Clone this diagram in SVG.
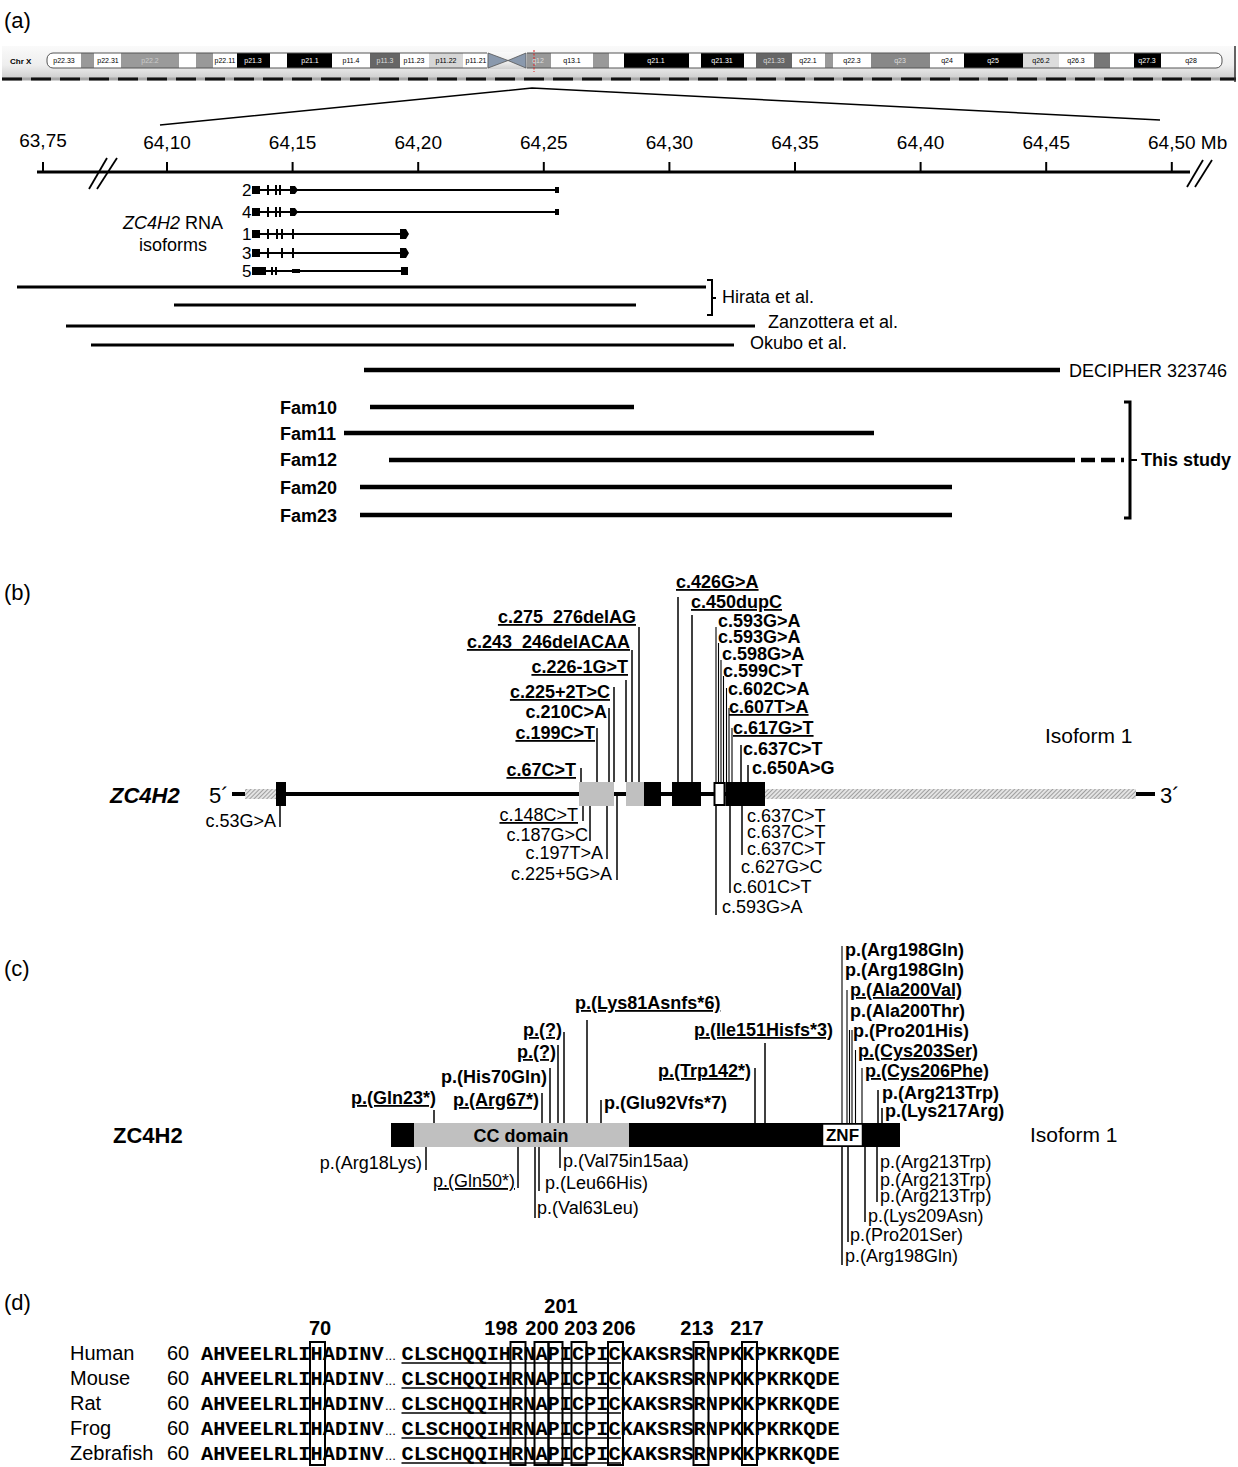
<svg xmlns="http://www.w3.org/2000/svg" width="1238" height="1467" viewBox="0 0 1238 1467">
<style>
text{font-family:"Liberation Sans",Arial,sans-serif;fill:#000}
.p{font-size:22px}
.ax{font-size:19px;text-anchor:middle}
.m{font-size:18px}
.mb{font-size:18px;font-weight:bold}
.u{text-decoration:underline}
.e{text-anchor:end}
.c{text-anchor:middle}
.bd{font-size:7px;text-anchor:middle}
.ln{stroke:#000;stroke-width:1.5;fill:none}
.ln2{stroke:#000;stroke-width:1.1;fill:none}
.seq text{font-family:"Liberation Mono","Courier New",monospace;font-size:20.3px;font-weight:bold}
.sp{font-size:20px}
.num{font-size:20px;font-weight:bold;text-anchor:middle}
.box{fill:none;stroke:#000;stroke-width:2}
</style>
<defs>
<linearGradient id="bg" x1="0" y1="0" x2="0" y2="1">
<stop offset="0" stop-color="#fafafa"/><stop offset="0.6" stop-color="#eeeeee"/><stop offset="1" stop-color="#cfcfcf"/>
</linearGradient>
<pattern id="hatch" width="3" height="3" patternUnits="userSpaceOnUse" patternTransform="rotate(45)">
<rect width="3" height="3" fill="#e4e4e4"/><line x1="0" y1="0" x2="0" y2="3" stroke="#7a7a7a" stroke-width="1.3"/>
</pattern>
<clipPath id="chrclip"><rect x="47" y="53" width="1175" height="15" rx="6"/></clipPath>
</defs>
<rect width="1238" height="1467" fill="#fff"/>

<!-- Panel a -->
<text class="p" x="4" y="28">(a)</text>
<g id="ideogram">
<rect x="2" y="46" width="1234" height="32" fill="url(#bg)"/>
<line x1="2" y1="79" x2="1236" y2="79" stroke="#a8a8a8" stroke-width="3"/>
<line x1="2" y1="79" x2="1236" y2="79" stroke="#111" stroke-width="3" stroke-dasharray="20 9"/>
<line x1="1235" y1="46" x2="1235" y2="82" stroke="#333" stroke-width="1.5"/>
<text x="10" y="64" style="font-size:8px;font-weight:bold">Chr X</text>
<g clip-path="url(#chrclip)">
<rect x="47" y="53" width="1175" height="15" fill="#fff"/>
<rect x="81" y="53" width="13" height="15" fill="#999"/>
<rect x="121" y="53" width="58" height="15" fill="#9a9a9a"/>
<rect x="196" y="53" width="17" height="15" fill="#999"/>
<rect x="237" y="53" width="33" height="15" fill="#000"/>
<rect x="287" y="53" width="45" height="15" fill="#000"/>
<rect x="370" y="53" width="30" height="15" fill="#666"/>
<rect x="429" y="53" width="34" height="15" fill="#d6d6d6"/>
<rect x="488" y="53" width="38" height="15" fill="#fff"/>
<rect x="526" y="53" width="25" height="15" fill="#999"/>
<rect x="593" y="53" width="16" height="15" fill="#999"/>
<rect x="624" y="53" width="65" height="15" fill="#000"/>
<rect x="701" y="53" width="43" height="15" fill="#000"/>
<rect x="756" y="53" width="36" height="15" fill="#666"/>
<rect x="825" y="53" width="8" height="15" fill="#999"/>
<rect x="871" y="53" width="59" height="15" fill="#888"/>
<rect x="964" y="53" width="59" height="15" fill="#000"/>
<rect x="1023" y="53" width="36" height="15" fill="#dcdcdc"/>
<rect x="1094" y="53" width="16" height="15" fill="#777"/>
<rect x="1134" y="53" width="27" height="15" fill="#000"/>
</g>
<rect x="47" y="53" width="1175" height="15" rx="6" fill="none" stroke="#555" stroke-width="1"/>
<rect x="487" y="52" width="40" height="17" fill="url(#bg)"/>
<polygon points="488,53 508,60.5 488,68" fill="#8a99ad" stroke="#555" stroke-width="0.8"/>
<polygon points="526,53 508,60.5 526,68" fill="#8a99ad" stroke="#555" stroke-width="0.8"/>
<line x1="534" y1="50" x2="534" y2="72" stroke="#e02020" stroke-width="1" stroke-dasharray="2 1.5"/>
<text class="bd" x="64" y="63">p22.33</text>
<text class="bd" x="108" y="63">p22.31</text>
<text class="bd" x="150" y="63" style="fill:#ccc">p22.2</text>
<text class="bd" x="225" y="63">p22.11</text>
<text class="bd" x="253" y="63" style="fill:#fff">p21.3</text>
<text class="bd" x="310" y="63" style="fill:#fff">p21.1</text>
<text class="bd" x="351" y="63">p11.4</text>
<text class="bd" x="385" y="63" style="fill:#ddd">p11.3</text>
<text class="bd" x="414" y="63">p11.23</text>
<text class="bd" x="446" y="63">p11.22</text>
<text class="bd" x="476" y="63">p11.21</text>
<text class="bd" x="538" y="63" style="fill:#ddd">q12</text>
<text class="bd" x="572" y="63">q13.1</text>
<text class="bd" x="656" y="63" style="fill:#fff">q21.1</text>
<text class="bd" x="722" y="63" style="fill:#fff">q21.31</text>
<text class="bd" x="774" y="63" style="fill:#ddd">q21.33</text>
<text class="bd" x="808" y="63">q22.1</text>
<text class="bd" x="852" y="63">q22.3</text>
<text class="bd" x="900" y="63" style="fill:#ddd">q23</text>
<text class="bd" x="947" y="63">q24</text>
<text class="bd" x="993" y="63" style="fill:#fff">q25</text>
<text class="bd" x="1041" y="63">q26.2</text>
<text class="bd" x="1076" y="63">q26.3</text>
<text class="bd" x="1147" y="63" style="fill:#fff">q27.3</text>
<text class="bd" x="1191" y="63">q28</text>
</g>
<g id="zoomlines" class="ln">
<polyline points="160,125 532,88 1160,120" style="stroke-width:1.5"/>
</g>
<g id="axis">
<line x1="37" y1="172" x2="1190" y2="172" stroke="#000" stroke-width="3"/>
<g stroke="#000" stroke-width="2">
<line x1="43" y1="162" x2="43" y2="172"/><line x1="167" y1="162" x2="167" y2="172"/><line x1="292.6" y1="162" x2="292.6" y2="172"/><line x1="418.2" y1="162" x2="418.2" y2="172"/><line x1="543.8" y1="162" x2="543.8" y2="172"/><line x1="669.4" y1="162" x2="669.4" y2="172"/><line x1="795" y1="162" x2="795" y2="172"/><line x1="920.6" y1="162" x2="920.6" y2="172"/><line x1="1046.2" y1="162" x2="1046.2" y2="172"/><line x1="1171.8" y1="162" x2="1171.8" y2="172"/>
</g>
<g stroke="#000" stroke-width="1.8">
<line x1="89" y1="189" x2="107" y2="158"/><line x1="97" y1="189" x2="117" y2="158"/>
<line x1="1187" y1="187" x2="1203" y2="160"/><line x1="1195" y1="187" x2="1212" y2="160"/>
</g>
<text class="ax" x="43" y="147">63,75</text>
<text class="ax" x="167" y="149">64,10</text>
<text class="ax" x="292.6" y="149">64,15</text>
<text class="ax" x="418.2" y="149">64,20</text>
<text class="ax" x="543.8" y="149">64,25</text>
<text class="ax" x="669.4" y="149">64,30</text>
<text class="ax" x="795" y="149">64,35</text>
<text class="ax" x="920.6" y="149">64,40</text>
<text class="ax" x="1046.2" y="149">64,45</text>
<text x="1148" y="149" style="font-size:19px">64,50 Mb</text>
</g>
<g id="isoforms">
<text x="173" y="229" class="c" style="font-size:18px"><tspan font-style="italic">ZC4H2</tspan> RNA</text>
<text x="173" y="251" class="c" style="font-size:18px">isoforms</text>
<g style="font-size:17px">
<text x="242" y="196">2</text><text x="242" y="218">4</text><text x="242" y="240">1</text><text x="242" y="259">3</text><text x="242" y="277">5</text>
</g>
<g stroke="#000" stroke-width="2">
<line x1="255" y1="190" x2="557" y2="190"/><line x1="255" y1="212" x2="557" y2="212"/>
<line x1="255" y1="234" x2="405" y2="234"/><line x1="255" y1="253" x2="405" y2="253"/><line x1="255" y1="271" x2="405" y2="271"/>
<line x1="268" y1="185" x2="268" y2="195"/><line x1="276" y1="185" x2="276" y2="195"/><line x1="280" y1="185" x2="280" y2="195"/>
<line x1="268" y1="207" x2="268" y2="217"/><line x1="276" y1="207" x2="276" y2="217"/><line x1="280" y1="207" x2="280" y2="217"/>
<line x1="268" y1="229" x2="268" y2="239"/><line x1="277" y1="229" x2="277" y2="239"/><line x1="282" y1="229" x2="282" y2="239"/><line x1="293" y1="229" x2="293" y2="239"/>
<line x1="268" y1="248" x2="268" y2="258"/><line x1="282" y1="248" x2="282" y2="258"/><line x1="293" y1="248" x2="293" y2="258"/>
<line x1="272" y1="267" x2="272" y2="275"/><line x1="276" y1="267" x2="276" y2="275"/>
</g>
<rect x="252" y="186" width="8" height="8"/><polygon points="290,186 295,186 298,190 295,194 290,194"/>
<rect x="252" y="208" width="8" height="8"/><polygon points="290,208 295,208 298,212 295,216 290,216"/>
<rect x="252" y="230" width="8" height="8"/><polygon points="400,229 406,229 409,234 406,239 400,239"/>
<rect x="252" y="249" width="8" height="8"/><polygon points="400,248 406,248 409,253 406,258 400,258"/>
<rect x="252" y="267" width="14" height="8"/><rect x="292" y="269" width="8" height="4"/><rect x="401" y="267" width="7" height="8"/>
<rect x="555" y="187" width="4" height="6"/><rect x="555" y="209" width="4" height="6"/>
</g>
<g id="deletions" stroke="#000">
<line x1="17" y1="287" x2="706" y2="287" stroke-width="3"/>
<line x1="174" y1="305" x2="636" y2="305" stroke-width="3"/>
<line x1="66" y1="326" x2="755" y2="326" stroke-width="3"/>
<line x1="91" y1="345" x2="734" y2="345" stroke-width="3"/>
<line x1="364" y1="370" x2="1060" y2="370" stroke-width="4.5"/>
<line x1="370" y1="407" x2="634" y2="407" stroke-width="4.5"/>
<line x1="344" y1="433" x2="874" y2="433" stroke-width="4.5"/>
<line x1="389" y1="460" x2="1075" y2="460" stroke-width="4.5"/>
<line x1="1081" y1="460" x2="1124" y2="460" stroke-width="4.5" stroke-dasharray="14 6"/>
<line x1="360" y1="487" x2="952" y2="487" stroke-width="4.5"/>
<line x1="360" y1="515" x2="952" y2="515" stroke-width="4.5"/>
<polyline points="707,280 712,280 712,315 707,315" fill="none" stroke-width="2"/>
<line x1="712" y1="298" x2="716" y2="298" stroke-width="2"/>
<polyline points="1124,402 1130,402 1130,518 1124,518" fill="none" stroke-width="3"/>
<line x1="1130" y1="460" x2="1137" y2="460" stroke-width="2"/>
</g>
<g id="deletion-labels">
<text class="m" x="722" y="303">Hirata et al.</text>
<text class="m" x="768" y="328">Zanzottera et al.</text>
<text class="m" x="750" y="349">Okubo et al.</text>
<text class="m" x="1069" y="377">DECIPHER 323746</text>
<text class="mb" x="280" y="414">Fam10</text>
<text class="mb" x="280" y="440">Fam11</text>
<text class="mb" x="280" y="466">Fam12</text>
<text class="mb" x="280" y="494">Fam20</text>
<text class="mb" x="280" y="522">Fam23</text>
<text class="mb" x="1141" y="466">This study</text>
</g>

<!-- Panel b -->
<text class="p" x="4" y="600">(b)</text>
<g id="gene-b">
<text x="110" y="803" style="font-size:22px;font-weight:bold;font-style:italic">ZC4H2</text>
<text x="209" y="803" style="font-size:22px">5´</text>
<text x="1160" y="803" style="font-size:22px">3´</text>
<line x1="232" y1="794" x2="1155" y2="794" stroke="#000" stroke-width="4"/>
<rect x="245" y="789" width="31" height="10" fill="url(#hatch)"/>
<rect x="765" y="789" width="371" height="10" fill="url(#hatch)"/>
<rect x="276" y="782" width="10" height="24"/>
<rect x="579" y="782" width="35" height="24" fill="#c0c0c0"/>
<rect x="626" y="782" width="18" height="24" fill="#c0c0c0"/>
<rect x="644" y="782" width="17" height="24"/>
<rect x="672" y="782" width="29" height="24"/>
<rect x="714.5" y="783" width="10" height="22" fill="#fff" stroke="#000" stroke-width="2"/>
<rect x="725.5" y="782" width="39.5" height="24"/>
<text x="1045" y="743" style="font-size:21px">Isoform 1</text>
</g>
<g id="connectors-b" class="ln">
<line x1="639" y1="627" x2="639" y2="782"/>
<line x1="632" y1="650" x2="632" y2="782"/>
<line x1="626" y1="680" x2="626" y2="782"/>
<line x1="614" y1="687" x2="614" y2="782"/>
<line x1="609" y1="708" x2="609" y2="782"/>
<line x1="597" y1="728" x2="597" y2="782"/>
<line x1="581" y1="768" x2="581" y2="782"/>
<line x1="678" y1="597" x2="678" y2="782"/>
<line x1="692" y1="615" x2="692" y2="782"/>
<g class="ln2">
<line x1="716" y1="627" x2="716" y2="782"/>
<line x1="718.5" y1="643" x2="718.5" y2="782"/>
<line x1="721" y1="660" x2="721" y2="782"/>
<line x1="723.5" y1="676" x2="723.5" y2="782"/>
<line x1="726.5" y1="688" x2="726.5" y2="782"/>
<line x1="729" y1="708" x2="729" y2="782"/>
<line x1="732" y1="728" x2="732" y2="782"/>
</g>
<line x1="741" y1="745" x2="741" y2="782"/>
<line x1="748" y1="765" x2="748" y2="782"/>
<line x1="280" y1="806" x2="280" y2="827"/>
<line x1="583" y1="806" x2="583" y2="821"/>
<line x1="590" y1="806" x2="590" y2="841"/>
<line x1="607" y1="806" x2="607" y2="859"/>
<line x1="617" y1="796" x2="617" y2="880"/>
<line x1="716" y1="806" x2="716" y2="915"/>
<line x1="730" y1="806" x2="730" y2="893"/>
<line x1="742" y1="806" x2="742" y2="855"/>
</g>
<g id="labels-b-top" class="mb">
<text class="e u" x="636" y="623">c.275_276delAG</text>
<text class="e u" x="630" y="648">c.243_246delACAA</text>
<text class="e u" x="628" y="673">c.226-1G&gt;T</text>
<text class="e u" x="610" y="698">c.225+2T&gt;C</text>
<text class="e" x="607" y="718">c.210C&gt;A</text>
<text class="e u" x="595" y="739">c.199C&gt;T</text>
<text class="e u" x="576" y="776">c.67C&gt;T</text>
<text class="u" x="676" y="588">c.426G&gt;A</text>
<text class="u" x="691" y="608">c.450dupC</text>
<text x="718" y="627">c.593G&gt;A</text>
<text x="718" y="643">c.593G&gt;A</text>
<text x="722" y="660">c.598G&gt;A</text>
<text x="723" y="677">c.599C&gt;T</text>
<text x="728" y="695">c.602C&gt;A</text>
<text class="u" x="729" y="713">c.607T&gt;A</text>
<text class="u" x="733" y="734">c.617G&gt;T</text>
<text x="743" y="755">c.637C&gt;T</text>
<text x="752" y="774">c.650A&gt;G</text>
</g>
<g id="labels-b-bottom" class="m">
<text class="e" x="276" y="827">c.53G&gt;A</text>
<text class="e u" x="578" y="821">c.148C&gt;T</text>
<text class="e" x="588" y="841">c.187G&gt;C</text>
<text class="e" x="603" y="859">c.197T&gt;A</text>
<text class="e" x="612" y="880">c.225+5G&gt;A</text>
<text x="747" y="822">c.637C&gt;T</text>
<text x="747" y="838">c.637C&gt;T</text>
<text x="747" y="855">c.637C&gt;T</text>
<text x="741" y="873">c.627G&gt;C</text>
<text x="733" y="893">c.601C&gt;T</text>
<text x="722" y="913">c.593G&gt;A</text>
</g>

<!-- Panel c -->
<text class="p" x="4" y="976">(c)</text>
<g id="protein-c">
<text x="113" y="1143" style="font-size:22px;font-weight:bold">ZC4H2</text>
<rect x="391" y="1123" width="509" height="24"/>
<rect x="414" y="1123" width="215" height="24" fill="#c0c0c0"/>
<rect x="822.5" y="1124" width="40" height="22" fill="#fff" stroke="#000" stroke-width="1.5"/>
<text class="mb c" x="521" y="1142">CC domain</text>
<text class="c" x="842.5" y="1141" style="font-size:17px;font-weight:bold">ZNF</text>
<text x="1030" y="1142" style="font-size:21px">Isoform 1</text>
</g>
<g id="connectors-c" class="ln">
<line x1="434" y1="1110" x2="434" y2="1123"/>
<line x1="542" y1="1093" x2="542" y2="1123"/>
<line x1="550" y1="1068" x2="550" y2="1123"/>
<line x1="558" y1="1045" x2="558" y2="1123"/>
<line x1="564" y1="1032" x2="564" y2="1123"/>
<line x1="587" y1="1020" x2="587" y2="1123"/>
<line x1="601" y1="1100" x2="601" y2="1123"/>
<line x1="755" y1="1068" x2="755" y2="1123"/>
<line x1="765" y1="1043" x2="765" y2="1123"/>
<g class="ln2">
<line x1="842" y1="946" x2="842" y2="1123"/>
<line x1="847" y1="990" x2="847" y2="1123"/>
<line x1="849.5" y1="1030" x2="849.5" y2="1123"/>
<line x1="852" y1="1030" x2="852" y2="1123"/>
<line x1="855.5" y1="1050" x2="855.5" y2="1123"/>
<line x1="862" y1="1068" x2="862" y2="1123"/>
</g>
<line x1="878" y1="1090" x2="878" y2="1123"/>
<line x1="882" y1="1108" x2="882" y2="1123"/>
<line x1="426" y1="1147" x2="426" y2="1170"/>
<line x1="518" y1="1147" x2="518" y2="1188"/>
<line x1="560" y1="1147" x2="560" y2="1168"/>
<line x1="539" y1="1147" x2="539" y2="1191"/>
<line x1="535" y1="1147" x2="535" y2="1218"/>
<line x1="877" y1="1147" x2="877" y2="1202"/>
<line x1="865" y1="1147" x2="865" y2="1222"/>
<line x1="848" y1="1147" x2="848" y2="1242"/>
<line x1="842" y1="1147" x2="842" y2="1265"/>
</g>
<g id="labels-c-top" class="mb">
<text class="e u" x="436" y="1104">p.(Gln23*)</text>
<text class="e u" x="539" y="1106">p.(Arg67*)</text>
<text class="e" x="547" y="1083">p.(His70Gln)</text>
<text class="e u" x="556" y="1058">p.(?)</text>
<text class="e u" x="562" y="1036">p.(?)</text>
<text class="u" x="575" y="1009">p.(Lys81Asnfs*6)</text>
<text x="604" y="1109">p.(Glu92Vfs*7)</text>
<text class="e u" x="751" y="1077">p.(Trp142*)</text>
<text class="e u" x="833" y="1036">p.(Ile151Hisfs*3)</text>
<text x="845" y="956">p.(Arg198Gln)</text>
<text x="845" y="976">p.(Arg198Gln)</text>
<text class="u" x="850" y="996">p.(Ala200Val)</text>
<text x="850" y="1017">p.(Ala200Thr)</text>
<text x="853" y="1037">p.(Pro201His)</text>
<text class="u" x="858" y="1057">p.(Cys203Ser)</text>
<text class="u" x="865" y="1077">p.(Cys206Phe)</text>
<text x="882" y="1099">p.(Arg213Trp)</text>
<text x="885" y="1117">p.(Lys217Arg)</text>
</g>
<g id="labels-c-bottom" class="m">
<text class="e" x="422" y="1169">p.(Arg18Lys)</text>
<text class="e u" x="515" y="1187">p.(Gln50*)</text>
<text x="563" y="1167">p.(Val75in15aa)</text>
<text x="545" y="1189">p.(Leu66His)</text>
<text x="537" y="1214">p.(Val63Leu)</text>
<text x="880" y="1168">p.(Arg213Trp)</text>
<text x="880" y="1186">p.(Arg213Trp)</text>
<text x="880" y="1202">p.(Arg213Trp)</text>
<text x="868" y="1222">p.(Lys209Asn)</text>
<text x="850" y="1241">p.(Pro201Ser)</text>
<text x="845" y="1262">p.(Arg198Gln)</text>
</g>

<!-- Panel d -->
<text class="p" x="4" y="1310">(d)</text>
<g id="alignment">
<text class="num" x="320" y="1335">70</text>
<text class="num" x="561" y="1313">201</text>
<text class="num" x="501" y="1335">198</text>
<text class="num" x="542" y="1335">200</text>
<text class="num" x="581" y="1335">203</text>
<text class="num" x="619" y="1335">206</text>
<text class="num" x="697" y="1335">213</text>
<text class="num" x="747" y="1335">217</text>
<g class="sp">
<text x="70" y="1360">Human</text><text x="70" y="1385">Mouse</text><text x="70" y="1410">Rat</text><text x="70" y="1435">Frog</text><text x="70" y="1460">Zebrafish</text>
<text x="167" y="1360">60</text><text x="167" y="1385">60</text><text x="167" y="1410">60</text><text x="167" y="1435">60</text><text x="167" y="1460">60</text>
</g>
<g class="seq">
<text x="201" y="1360">AHVEELRLIHADINV</text><text x="201" y="1385">AHVEELRLIHADINV</text><text x="201" y="1410">AHVEELRLIHADINV</text><text x="201" y="1435">AHVEELRLIHADINV</text><text x="201" y="1460">AHVEELRLIHADINV</text>
<text x="401.5" y="1360">CLSCHQQIHRNAPICPICKAKSRSRNPKKPKRKQDE</text><text x="401.5" y="1385">CLSCHQQIHRNAPICPICKAKSRSRNPKKPKRKQDE</text><text x="401.5" y="1410">CLSCHQQIHRNAPICPICKAKSRSRNPKKPKRKQDE</text><text x="401.5" y="1435">CLSCHQQIHRNAPICPICKAKSRSRNPKKPKRKQDE</text><text x="401.5" y="1460">CLSCHQQIHRNAPICPICKAKSRSRNPKKPKRKQDE</text>
</g>
<g style="font-size:13px">
<text x="385" y="1360">...</text><text x="385" y="1385">...</text><text x="385" y="1410">...</text><text x="385" y="1435">...</text><text x="385" y="1460">...</text>
</g>
<g stroke="#000" stroke-width="1.5">
<line x1="401.5" y1="1363" x2="621" y2="1363"/><line x1="401.5" y1="1388" x2="621" y2="1388"/><line x1="401.5" y1="1413" x2="621" y2="1413"/><line x1="401.5" y1="1438" x2="621" y2="1438"/><line x1="401.5" y1="1463" x2="621" y2="1463"/>
</g>
<rect class="box" x="310" y="1342" width="15" height="123"/>
<rect class="box" x="510.5" y="1342" width="15" height="123"/>
<rect class="box" x="534.5" y="1342" width="14" height="123"/>
<rect class="box" x="548.5" y="1342" width="14" height="123"/>
<rect class="box" x="571.5" y="1342" width="15" height="123"/>
<rect class="box" x="608" y="1342" width="15" height="123"/>
<rect class="box" x="693.5" y="1342" width="15" height="123"/>
<rect class="box" x="742" y="1342" width="15" height="123"/>
</g>
</svg>
